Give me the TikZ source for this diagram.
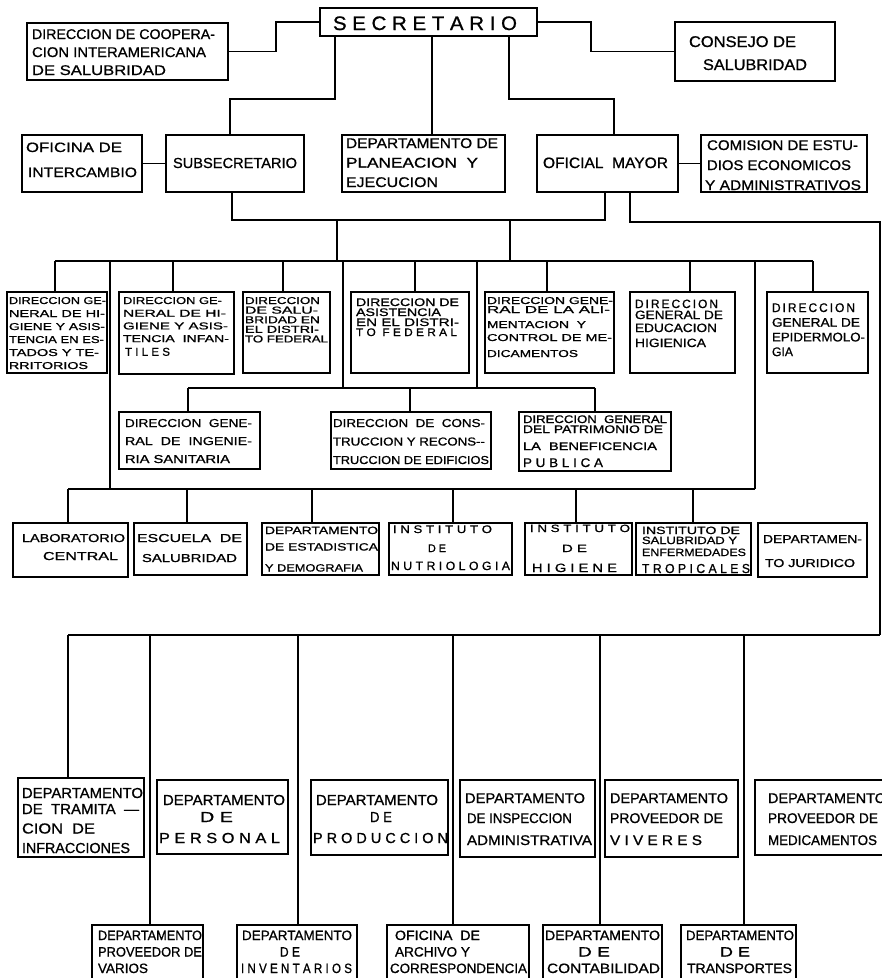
\documentclass[tikz,border=0pt]{standalone}
\usepackage{fontspec}
\setmainfont{Liberation Sans}[FakeBold=0.9]
\usepackage{graphicx}
\newcommand{\Ln}[3]{\hbox{\hspace*{#1pt}\resizebox{#2pt}{\height}{#3}}}
\newcommand{\Tx}[2]{\vtop{\baselineskip=#1pt\lineskiplimit=-1000pt\lineskip=0pt\relax #2}}
\newcommand{\Gap}[1]{\vskip #1pt\relax}
\newcommand{\fs}[1]{\fontsize{#1}{#1}\selectfont}
\newcommand{\bx}[5]{\node[box, minimum width={#4-#2}, minimum height={#5-#3}] (#1) at (#2,#3) {};}
\tikzset{
  box/.style={draw, line width=1.1pt, inner sep=0pt, outer sep=0pt, anchor=north west},
  txt/.style={anchor=base west, inner sep=0pt, outer sep=0pt},
  ln/.style={line width=1.1pt}
}
\begin{document}
\begin{tikzpicture}[x=1pt,y=-1pt]
\useasboundingbox (0,0) rectangle (882,978);
\clip (0,0) rectangle (882,978);
\fill[white] (0,0) rectangle (882,978);
% ---------- boxes ----------
\bx{sec}{320}{8}{537}{36}
\bx{coop}{27}{23}{228}{80}
\bx{cons}{675}{22}{835}{81}
\bx{inter}{22}{135}{142}{192}
\bx{sub}{166}{135}{304}{192}
\bx{plan}{342}{135}{505}{192}
\bx{ofm}{537}{135}{678}{192}
\bx{com}{701}{135}{867}{192}
\bx{d1}{7}{292}{107}{373}
\bx{d2}{119}{292}{234}{374}
\bx{d3}{243}{292}{330}{373}
\bx{d4}{351}{292}{469}{373}
\bx{d5}{485}{292}{614}{373}
\bx{d6}{630}{292}{735}{373}
\bx{d7}{767}{292}{868}{373}
\bx{m1}{119}{412}{260}{469}
\bx{m2}{331}{412}{491}{469}
\bx{m3}{519}{412}{671}{471}
\bx{l1}{13}{523}{128}{577}
\bx{l2}{134}{523}{247}{575}
\bx{l3}{262}{523}{379}{575}
\bx{l4}{389}{523}{512}{575}
\bx{l5}{525}{523}{632}{575}
\bx{l6}{636}{523}{751}{575}
\bx{l7}{758}{523}{867}{577}
\bx{r1}{18}{778}{144}{857}
\bx{r2}{157}{780}{288}{854}
\bx{r3}{311}{780}{448}{855}
\bx{r4}{460}{780}{595}{857}
\bx{r5}{605}{780}{738}{857}
\bx{r6}{755}{780}{900}{855}
\bx{b1}{92}{925}{203}{995}
\bx{b2}{237}{925}{357}{995}
\bx{b3}{387}{925}{529}{995}
\bx{b4}{543}{925}{662}{995}
\bx{b5}{681}{925}{796}{995}
% ---------- texts ----------
\node[txt,font=\fs{19.5}] (tsec) at (333,30) {\Tx{20}{\Ln{0}{184}{S E C R E T A R I O}}};
\node[txt,font=\fs{14}] (tcoop) at (32,39) {\Tx{18}{\Ln{0}{183}{DIRECCION DE COOPERA-}\Ln{0}{174}{CION INTERAMERICANA}\Ln{0}{134}{DE SALUBRIDAD}}};
\node[txt,font=\fs{15.5}] (tcons) at (689,47) {\Tx{23}{\Ln{0}{107}{CONSEJO DE}\Ln{14}{104}{SALUBRIDAD}}};
\node[txt,font=\fs{13.5}] (tinter) at (26,152) {\Tx{25}{\Ln{0}{96}{OFICINA DE}\Ln{2}{109}{INTERCAMBIO}}};
\node[txt,font=\fs{14.5}] (tsub) at (173,168) {\Tx{20}{\Ln{0}{124}{SUBSECRETARIO}}};
\node[txt,font=\fs{14}] (tplan) at (346,148) {\Tx{19.5}{\Ln{0}{152}{DEPARTAMENTO DE}\Ln{0}{132}{PLANEACION\ \ Y}\Ln{0}{92}{EJECUCION}}};
\node[txt,font=\fs{15}] (tofm) at (543,168) {\Tx{20}{\Ln{0}{125}{OFICIAL\ \ MAYOR}}};
\node[txt,font=\fs{14}] (tcom) at (705,150) {\Tx{20}{\Ln{2}{151}{COMISION DE ESTU-}\Ln{2}{144}{DIOS ECONOMICOS}\Ln{0}{156}{Y ADMINISTRATIVOS}}};
\node[txt,font=\fs{10}] (td1) at (9,304) {\Tx{13}{\Ln{0}{97}{DIRECCION GE-}\Ln{0}{96}{NERAL DE HI-}\Ln{0}{96}{GIENE Y ASIS-}\Ln{0}{95}{TENCIA EN ES-}\Ln{0}{90}{TADOS Y TE-}\Ln{0}{79}{RRITORIOS}}};
\node[txt,font=\fs{10}] (td2) at (123,304) {\Tx{12.7}{\Ln{0}{99}{DIRECCION GE-}\Ln{0}{103}{NERAL DE HI-}\Ln{0}{105}{GIENE Y ASIS-}\Ln{0}{106}{TENCIA\ \ INFAN-}\Gap{1}\Ln{2}{45}{\fs{11.5}T I L E S}}};
\node[txt,font=\fs{10}] (td3) at (245,304) {\Tx{9.6}{\Ln{0}{75}{DIRECCION}\Ln{0}{73}{DE SALU-}\Ln{0}{75}{BRIDAD EN}\Ln{0}{74}{EL DISTRI-}\Ln{0}{83}{TO FEDERAL}}};
\node[txt,font=\fs{11}] (td4) at (356,306) {\Tx{10}{\Ln{0}{103}{DIRECCION DE}\Ln{0}{85}{ASISTENCIA}\Ln{0}{103}{EN EL DISTRI-}\Ln{0}{101}{T O\ \ F E D E R A L}}};
\node[txt,font=\fs{10}] (td5) at (487,304) {\Tx{13}{\Ln{0}{126}{DIRECCION GENE-}\Gap{-4}\Ln{0}{123}{RAL DE LA ALI-}\Gap{2}\Ln{0}{99}{MENTACION\ \ Y}\Ln{0}{125}{CONTROL DE ME-}\Gap{3}\Ln{0}{91}{DICAMENTOS}}};
\node[txt,font=\fs{12}] (td6) at (635,308) {\Tx{13}{\Ln{0}{83}{D\,I\,R\,E\,C\,C\,I\,O\,N}\Gap{-2}\Ln{0}{88}{GENERAL DE}\Ln{0}{82}{EDUCACION}\Gap{2}\Ln{0}{71}{HIGIENICA}}};
\node[txt,font=\fs{12.5}] (td7) at (772,312) {\Tx{14.7}{\Ln{0}{83}{D\,I\,R\,E\,C\,C\,I\,O\,N}\Ln{0}{88}{GENERAL DE}\Ln{0}{93}{EPIDERMOLO-}\Ln{0}{21}{GIA}}};
\node[txt,font=\fs{11.5}] (tm1) at (125,427) {\Tx{18}{\Ln{0}{127}{DIRECCION\ \ GENE-}\Ln{0}{127}{RAL\ \ DE\ \ INGENIE-}\Ln{0}{105}{RIA SANITARIA}}};
\node[txt,font=\fs{11.5}] (tm2) at (333,427) {\Tx{18.5}{\Ln{0}{152}{DIRECCION\ \ DE\ \ CONS-}\Ln{0}{152}{TRUCCION Y RECONS-{}-}\Ln{0}{156}{TRUCCION DE EDIFICIOS}}};
\node[txt,font=\fs{11}] (tm3) at (523,423) {\Tx{10}{\Ln{0}{144}{DIRECCION\ \ GENERAL}\Ln{0}{140}{DEL PATRIMONIO DE}\Gap{7}\Ln{0}{134}{LA\ \ BENEFICENCIA}\Gap{7}\Ln{0}{80}{\fs{12.5}P U B L I C A}}};
\node[txt,font=\fs{11.5}] (tl1) at (22,542) {\Tx{18}{\Ln{0}{103}{LABORATORIO}\Ln{21}{75}{CENTRAL}}};
\node[txt,font=\fs{11.5}] (tl2) at (137,542) {\Tx{20}{\Ln{0}{105}{ESCUELA\ \ DE}\Ln{5}{95}{SALUBRIDAD}}};
\node[txt,font=\fs{10.5}] (tl3) at (265,534) {\Tx{16.5}{\Ln{0}{113}{DEPARTAMENTO}\Ln{0}{113}{DE ESTADISTICA}\Gap{4.5}\Ln{0}{98}{Y DEMOGRAFIA}}};
\node[txt,font=\fs{11}] (tl4) at (391,533) {\Tx{19}{\Ln{2}{99}{I N S T I T U T O}\Ln{37}{18}{D E}\Gap{-1}\Ln{0}{119}{\fs{12}N U T R I O L O G I A}}};
\node[txt,font=\fs{10.5}] (tl5) at (530,532) {\Tx{20}{\Ln{0}{100}{I N S T I T U T O}\Ln{32}{25}{D E}\Ln{2}{85}{\fs{12}H I G I E N E}}};
\node[txt,font=\fs{10.5}] (tl6) at (642,534) {\Tx{10}{\Ln{0}{98}{INSTITUTO DE}\Ln{0}{95}{SALUBRIDAD Y}\Gap{2}\Ln{0}{104}{ENFERMEDADES}\Gap{7}\Ln{0}{108}{\fs{13}T R O P I C A L E S}}};
\node[txt,font=\fs{11.5}] (tl7) at (763,543) {\Tx{24}{\Ln{0}{99}{DEPARTAMEN-}\Ln{2}{90}{TO JURIDICO}}};
\node[txt,font=\fs{14.5}] (tr1) at (22,798) {\Tx{19.5}{\Ln{0}{121}{DEPARTAMENTO}\Gap{-3.5}\Ln{0}{117}{DE\ \ TRAMITA\ \ ---}\Ln{0}{73}{CION\ \ DE}\Ln{0}{108}{INFRACCIONES}}};
\node[txt,font=\fs{14.5}] (tr2) at (159,805) {\Tx{17}{\Ln{4}{122}{DEPARTAMENTO}\Ln{41}{33}{D E}\Gap{4}\Ln{0}{121}{P E R S O N A L}}};
\node[txt,font=\fs{14.5}] (tr3) at (313,805) {\Tx{17}{\Ln{3}{122}{DEPARTAMENTO}\Ln{57}{22}{D E}\Gap{4}\Ln{0}{135}{P R O D U C C I O N}}};
\node[txt,font=\fs{14}] (tr4) at (465,803) {\Tx{20}{\Ln{0}{120}{DEPARTAMENTO}\Ln{2}{105}{DE INSPECCION}\Gap{2}\Ln{2}{125}{ADMINISTRATIVA}}};
\node[txt,font=\fs{14}] (tr5) at (610,803) {\Tx{20}{\Ln{0}{118}{DEPARTAMENTO}\Ln{0}{113}{PROVEEDOR DE}\Gap{2}\Ln{0}{92}{V I V E R E S}}};
\node[txt,font=\fs{14}] (tr6) at (768,803) {\Tx{20}{\Ln{0}{118}{DEPARTAMENTO}\Ln{0}{110}{PROVEEDOR DE}\Gap{2}\Ln{0}{109}{MEDICAMENTOS}}};
\node[txt,font=\fs{13.5}] (tb1) at (98,940) {\Tx{16.5}{\Ln{0}{104}{DEPARTAMENTO}\Ln{0}{104}{PROVEEDOR DE}\Ln{0}{50}{VARIOS}}};
\node[txt,font=\fs{13.5}] (tb2) at (241,940) {\Tx{16.5}{\Ln{1}{110}{DEPARTAMENTO}\Ln{39}{20}{D E}\Ln{0}{111}{I N V E N T A R I O S}}};
\node[txt,font=\fs{13.5}] (tb3) at (390,940) {\Tx{16.5}{\Ln{5}{85}{OFICINA\ \ DE}\Ln{5}{75}{ARCHIVO Y}\Ln{0}{137}{CORRESPONDENCIA}}};
\node[txt,font=\fs{13.5}] (tb4) at (545,940) {\Tx{16.5}{\Ln{0}{115}{DEPARTAMENTO}\Ln{33}{32}{D E}\Ln{2}{113}{CONTABILIDAD}}};
\node[txt,font=\fs{13.5}] (tb5) at (686,940) {\Tx{16.5}{\Ln{0}{108}{DEPARTAMENTO}\Ln{34}{30}{D E}\Ln{1}{105}{TRANSPORTES}}};
% ---------- connectors ----------
\draw[ln] (coop.east) -- (276,51.5) |- (sec.west);
\draw[ln] (sec.east) -| (591,51.5) -- (cons.west);
\draw[ln] (sec.south -| 335,0) |- (230,99) -- (sub.north -| 230,0);
\draw[ln] (sec.south -| 432,0) -- (plan.north -| 432,0);
\draw[ln] (sec.south -| 509,0) |- (614,99) -- (ofm.north -| 614,0);
\draw[ln] (inter.east) -- (sub.west);
\draw[ln] (ofm.east) -- (com.west);
\coordinate (H1) at (232,220);
\coordinate (H2) at (605,220);
\draw[ln] (sub.south -| H1) -- (H1) -- (H2) -- (ofm.south -| H2);
\coordinate (A0) at (55,261);
\coordinate (A1) at (813,261);
\draw[ln] (A0) -- (A1);
\draw[ln] (H1 -| 337,0) -- (A0 -| 337,0);
\draw[ln] (H2 -| 510,0) -- (A0 -| 510,0);
\coordinate (R0) at (880,222);
\coordinate (D0) at (68,635);
\coordinate (D1) at (880,635);
\draw[ln] (ofm.south -| 630,0) |- (R0) -- (D1);
\draw[ln] (D0) -- (D1);
\foreach \n/\x in {d1/55,d2/173,d3/283,d4/415,d5/547,d6/690,d7/813}
  \draw[ln] (A0 -| \x,0) -- (\n.north -| \x,0);
\coordinate (B0) at (188,388);
\coordinate (B1) at (595,388);
\draw[ln] (B0) -- (B1);
\draw[ln] (A0 -| 343,0) -- (B0 -| 343,0);
\draw[ln] (A0 -| 477,0) -- (B0 -| 477,0);
\foreach \n/\x in {m1/188,m2/410,m3/595}
  \draw[ln] (B0 -| \x,0) -- (\n.north -| \x,0);
\coordinate (C0) at (68,489);
\coordinate (C1) at (755,489);
\draw[ln] (C0) -- (C1);
\draw[ln] (A0 -| 110,0) -- (C0 -| 110,0);
\draw[ln] (A0 -| 755,0) -- (C1);
\foreach \n/\x in {l1/68,l2/187,l3/312,l4/453,l5/576,l6/693}
  \draw[ln] (C0 -| \x,0) -- (\n.north -| \x,0);
\foreach \n/\x in {r1/68,b1/150,b2/298,b3/453,b4/600,b5/744}
  \draw[ln] (D0 -| \x,0) -- (\n.north -| \x,0);
\end{tikzpicture}
\end{document}
